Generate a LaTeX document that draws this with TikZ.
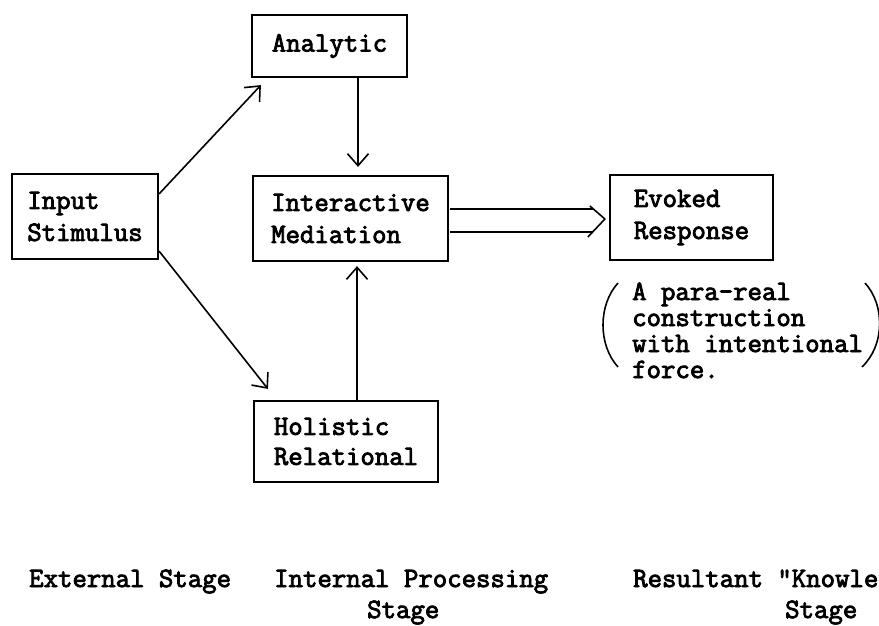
\documentclass[tikz,border=0pt]{standalone}
\usepackage{fontspec}
\newfontfamily\tw[FakeBold=3]{Latin Modern Mono}
\usetikzlibrary{arrows.meta,calc}

\begin{document}
\begin{tikzpicture}[x=1pt,y=-1pt,
  box/.style={draw,line width=2.2pt,align=left,inner sep=0pt,
    font=\tw\fontsize{28}{32}\selectfont},
  link/.style={line width=1.6pt,-{Straight Barb[length=12pt,width=21pt]}},
  lbl/.style={anchor=base west,inner sep=0pt,align=left,
    font=\tw\fontsize{28}{31}\selectfont}]
\useasboundingbox (0,0) rectangle (879,625);
\clip (0,0) rectangle (879,625);

% stage boxes
\node[box,minimum width=155pt,minimum height=62pt] (ana) at (329.5,46) {Analytic};
\node[box,minimum width=146pt,minimum height=85pt] (inp) at (85,216.5) {Input\\Stimulus};
\node[box,minimum width=195pt,minimum height=85pt] (inter) at (350.5,218.5) {Interactive\\Mediation};
\node[box,minimum width=163pt,minimum height=85pt] (evo) at (691.5,217.5) {Evoked\\Response};
\node[box,minimum width=184pt,minimum height=81pt,
  font=\tw\fontsize{28}{30}\selectfont] (hol) at (346,441.5) {Holistic\\Relational};

% single arrows
\draw[link] ($(inp.north east)+(0,21)$) -- ($(ana.south west)+(10,7)$);
\draw[link] ($(inp.south east)+(0,-9)$) -- ($(hol.north west)+(15,-11)$);
\draw[link] ($(ana.south)+(28.5,0)$) -- ($(inter.north)+(7.5,-8)$);
\draw[link] ($(hol.north)+(11,0)$) -- ($(inter.south)+(6.5,4)$);

% double (implication) arrow
\coordinate (t1) at ($(evo.west)+(-16,-8.5)$);
\coordinate (t2) at ($(evo.west)+(-16,14.5)$);
\coordinate (tip) at ($(evo.west)+(-4,1.5)$);
\draw[line width=1.6pt] ($(inter.east)+(1,-9.5)$) -- (t1);
\draw[line width=1.6pt] ($(inter.east)+(1,13.5)$) -- (t2);
\draw[line width=1.6pt,line join=round]
  ($(evo.west)+(-19,-11.5)$) -- (tip) -- ($(evo.west)+(-21,19.5)$);

% parenthetical note (base anchor sits on the last line)
\node[lbl,font=\tw\fontsize{28}{26}\selectfont] (note) at (632,378)
  {A para-real\\construction\\with intentional\\force.};
\draw[line width=1.6pt] (618,283) .. controls (598,305) and (598,345) .. (618,367);
\draw[line width=1.6pt] (865,283) .. controls (885,305) and (885,345) .. (862,367);

% stage labels
\node[lbl] (ext) at (29,587) {External Stage};
\node[lbl] (intl) at (274,587) {Internal Processing};
\node[lbl] (ints) at (367,618) {Stage};
\node[lbl] (resl) at (633,587) {Resultant "Knowledge"};
\node[lbl] (ress) at (785,618) {Stage};
\end{tikzpicture}
\end{document}
